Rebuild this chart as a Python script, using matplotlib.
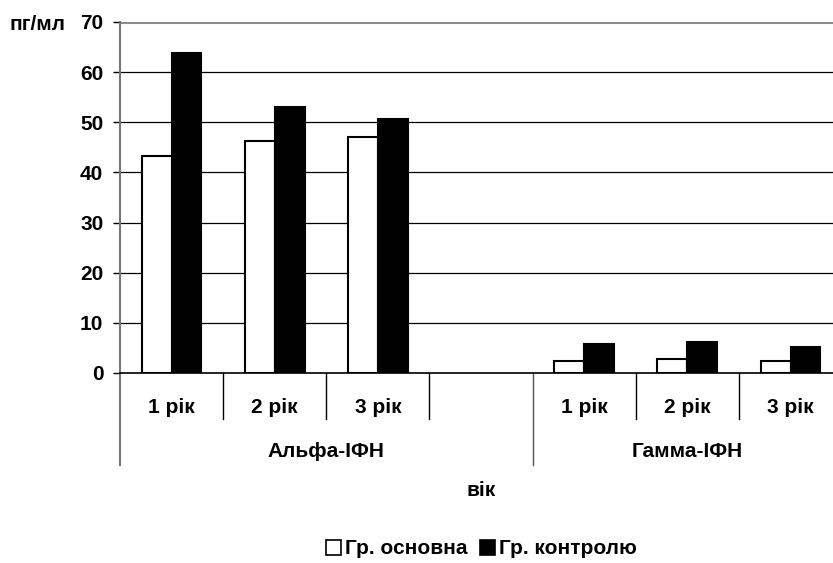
import matplotlib.pyplot as plt
from matplotlib.patches import Patch
import numpy as np

plt.rcParams['font.family'] = ['Liberation Sans', 'DejaVu Sans']
plt.rcParams['font.weight'] = 'bold'

# data
years = ["1 рік", "2 рік", "3 рік"]
groups = ["Альфа-ІФН", "Гамма-ІФН"]
alpha_main = [43.2, 46.3, 47.1]
alpha_ctrl = [63.9, 53.0, 50.6]
gamma_main = [2.3, 2.8, 2.4]
gamma_ctrl = [5.8, 6.2, 5.2]
series_names = ["Гр. основна", "Гр. контролю"]

# 7 slots: 3 alpha, 1 empty, 3 gamma
tick_labels = years + [""] + years
main_vals = alpha_main + [np.nan] + gamma_main
ctrl_vals = alpha_ctrl + [np.nan] + gamma_ctrl
x = np.arange(len(tick_labels))
fs = 15

fig = plt.figure(figsize=(8.33, 5.63), dpi=100)
ax = fig.add_axes([0.144, 0.3375, 0.867, 0.6235])

w = 0.29
ax.bar(x - w / 2, main_vals, w, color="white", edgecolor="black", linewidth=1.5, zorder=3)
ax.bar(x + w / 2, ctrl_vals, w, color="black", edgecolor="black", linewidth=1.5, zorder=3)

ax.set_xlim(-0.5, len(x) - 0.5)
ax.set_ylim(0, 70)
ax.set_yticks(range(0, 71, 10))
for v in range(10, 70, 10):
    ax.axhline(v, color="black", linewidth=0.9, zorder=1)
ax.axhline(70, color="#8c8c8c", linewidth=2.2, zorder=1)

for s in ["top", "right"]:
    ax.spines[s].set_visible(False)
ax.spines["left"].set_color("#777777")
ax.spines["left"].set_linewidth(1.5)
ax.spines["bottom"].set_color("black")
ax.spines["bottom"].set_linewidth(1.2)

ax.tick_params(axis="y", length=5, width=1, pad=7, labelsize=fs)
ax.set_xticks([])
for t in ax.get_yticklabels():
    t.set_fontweight("bold")

# multi-level category axis
tr = ax.get_xaxis_transform()
for b in np.arange(0.5, len(x) - 0.5, 1.0):
    if b == 3.5:
        ax.plot([b, b], [0, -0.262], color="#555555", linewidth=1, transform=tr, clip_on=False)
    else:
        ax.plot([b, b], [0, -0.131], color="black", linewidth=1, transform=tr, clip_on=False)
ax.plot([-0.5, -0.5], [0, -0.262], color="#777777", linewidth=1.5, transform=tr, clip_on=False)

for xi, lab in zip(x, tick_labels):
    ax.text(xi, -0.097, lab, transform=tr, ha="center", va="center", fontsize=fs, fontweight="bold")
ax.text(1.5, -0.225, groups[0], transform=tr, ha="center", va="center", fontsize=fs, fontweight="bold")
ax.text(5.0, -0.225, groups[1], transform=tr, ha="center", va="center", fontsize=fs, fontweight="bold")

fig.text(0.578, 1 - 491 / 563, "вік", ha="center", va="center", fontsize=fs, fontweight="bold")
fig.text(0.045, 1 - 25 / 563, "пг/мл", ha="center", va="center", fontsize=fs, fontweight="bold")

handles = [Patch(facecolor="white", edgecolor="black", linewidth=1.2),
           Patch(facecolor="black", edgecolor="black", linewidth=1.2)]
fig.legend(handles, series_names, loc="center", bbox_to_anchor=(0.578, 1 - 549 / 563),
           ncol=2, frameon=False, handlelength=0.7, handleheight=0.7, handletextpad=0.2,
           columnspacing=0.6, prop={"weight": "bold", "size": fs})

fig.savefig("out.png", dpi=100)
